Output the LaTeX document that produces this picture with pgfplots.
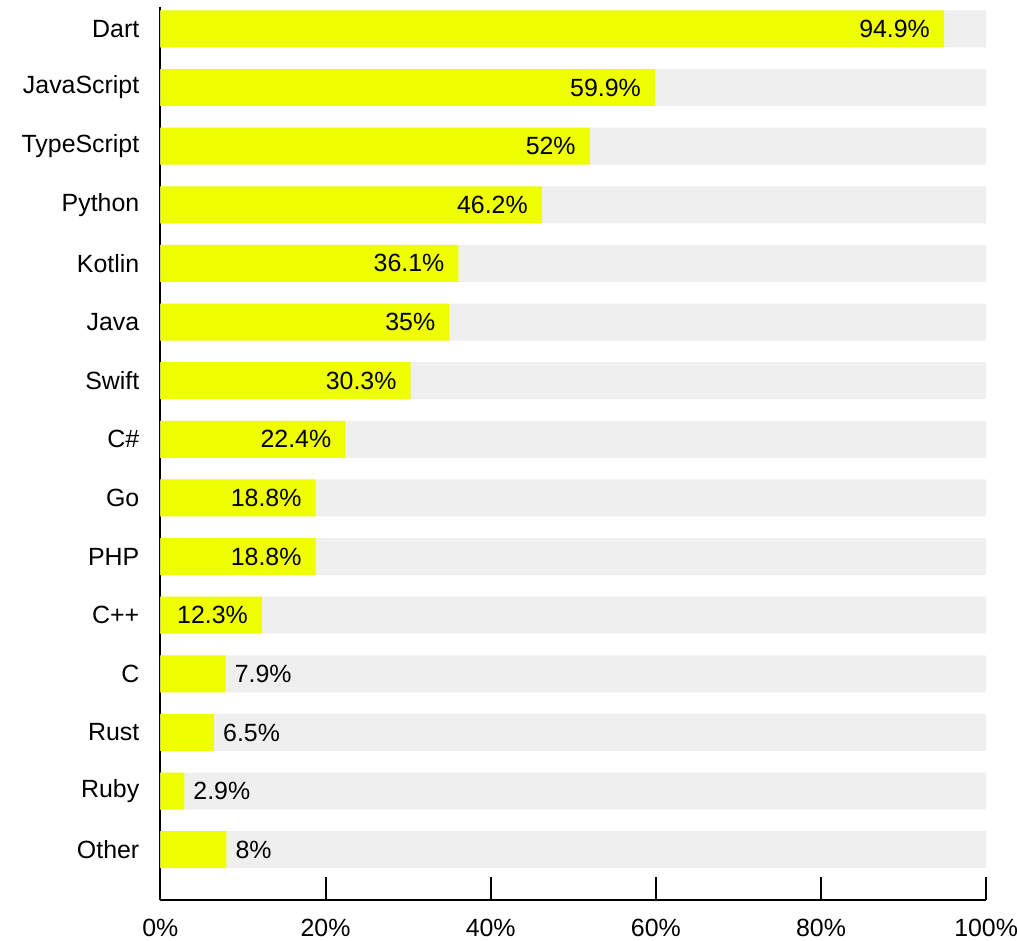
\documentclass[border=0pt]{standalone}
\usepackage{fontspec}
\setmainfont{Liberation Sans}
\usepackage{pgfplots}
\usepackage{pgfplotstable}
\pgfplotsset{compat=1.18}
\definecolor{baryellow}{RGB}{240,255,0}
\definecolor{bggray}{RGB}{239,239,239}
\pgfplotstableread{
y val
0 100
1 100
2 100
3 100
4 100
5 100
6 100
7 100
8 100
9 100
10 100
11 100
12 100
13 100
14 100
}\bgtable
\pgfplotstableread{
y val
0 94.9
1 59.9
2 52
3 46.2
4 36.1
5 35
6 30.3
7 22.4
8 18.8
9 18.8
10 12.3
}\bigtable
\pgfplotstableread{
y val
11 7.9
12 6.5
13 2.9
14 8
}\smalltable
\begin{document}
\begin{tikzpicture}
\begin{axis}[
  name=ax,
  scale only axis,
  width=829pt, height=897pt,
  xmin=0, xmax=100,
  ymin=-0.374, ymax=14.866,
  y dir=reverse,
  enlargelimits=false,
  xbar,
  font=\fontsize{25}{29}\selectfont,
  axis x line*=bottom,
  axis y line*=left,
  axis line style={line width=2pt, black},
  xtick={0,20,40,60,80,100},
  xticklabel={\pgfmathprintnumber{\tick}\%},
  xtick align=inside,
  major tick length=24pt,
  x tick style={line width=2pt, black},
  x tick label style={inner sep=0pt, anchor=north, yshift=-19pt},
  ytick={0,...,14},
  yticklabels={Dart,JavaScript,TypeScript,Python,Kotlin,Java,Swift,C\#,Go,PHP,C++,C,Rust,Ruby,Other},
  y tick style={draw=none},
  y tick label style={inner sep=0pt, anchor=east, xshift=3pt},
  /pgf/number format/assume math mode=true,
  clip=false,
]
\addplot[draw=none, fill=bggray, bar width=0.63, bar shift=0pt] table[x=val, y=y] {\bgtable};
\addplot[draw=none, fill=baryellow, bar width=0.63, bar shift=0pt,
  nodes near coords={\pgfmathprintnumber{\pgfplotspointmeta}\%},
  nodes near coords style={anchor=east, inner sep=0pt, xshift=-14pt, black},
  point meta=x] table[x=val, y=y] {\bigtable};
\addplot[draw=none, fill=baryellow, bar width=0.63, bar shift=0pt,
  nodes near coords={\pgfmathprintnumber{\pgfplotspointmeta}\%},
  nodes near coords style={anchor=west, inner sep=0pt, xshift=9pt, black},
  point meta=x] table[x=val, y=y] {\smalltable};
\end{axis}
\pgfresetboundingbox
\path[use as bounding box] ([xshift=-161pt, yshift=-40pt]ax.south west) rectangle ([xshift=31pt, yshift=7pt]ax.north east);
\end{tikzpicture}
\end{document}
